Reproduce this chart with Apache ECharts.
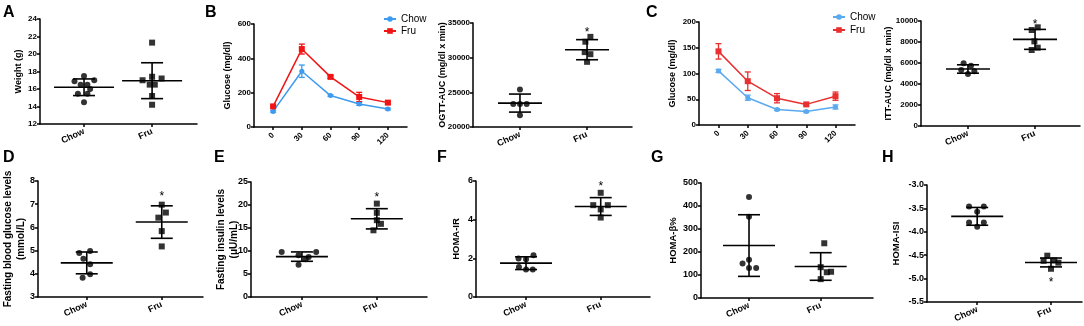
<!DOCTYPE html>
<html>
<head>
<meta charset="utf-8">
<script src="https://cdn.jsdelivr.net/npm/echarts@6/dist/echarts.min.js"></script>
<style>
  html, body { margin: 0; padding: 0; background: #fff; }
  #chart { width: 1084px; height: 326px; }
</style>
</head>
<body>
<div id="chart"></div>
<script>
const groups = ['Chow', 'Fru'];
const timePoints = [0, 30, 60, 90, 120];

// A - body weight
const weightChow = [17.5, 17.0, 16.9, 16.5, 16.5, 16.0, 15.45, 15.45, 14.5];
const weightChowJitter = [0, 0.15, -0.14, -0.05, 0.05, 0.09, -0.09, 0.05, 0];
const weightFru = [21.3, 17.4, 17.2, 17.0, 16.5, 16.5, 15.2, 14.2];
const weightFruJitter = [0, 0, 0.14, -0.14, -0.035, 0.04, 0, 0];
const weightMean = [16.2, 16.95];
const weightSD = [0.95, 2.05];

// B - OGTT curve (mean, sem)
const ogttChow = [91, 325, 183, 134, 105];
const ogttChowErr = [5, 36, 5, 8, 5];
const ogttFru = [120, 454, 292, 175, 142];
const ogttFruErr = [6, 29, 7, 27, 8];

// B - OGTT AUC
const ogttAucChow = [25400, 23300, 23300, 23300, 21700];
const ogttAucChowJitter = [0, -0.1, 0, 0.1, 0];
const ogttAucFru = [33000, 32300, 30800, 30500, 29400];
const ogttAucFruJitter = [0.05, -0.025, -0.035, 0.05, 0];
const ogttAucMean = [23450, 31150];
const ogttAucSD = [1300, 1450];
const ogttAucStar = 33850;

// C - ITT curve (mean, sem)
const ittChow = [105, 53, 30, 26, 35];
const ittChowErr = [3, 5, 2, 2, 4];
const ittFru = [143, 85, 52, 40, 56];
const ittFruErr = [15, 18, 9, 2, 8];

// C - ITT AUC
const ittAucChow = [5970, 5750, 5330, 5210, 4950];
const ittAucChowJitter = [-0.065, 0.045, -0.1, 0.095, 0];
const ittAucFru = [9140, 9400, 8060, 7460, 7240];
const ittAucFruJitter = [-0.05, 0.04, -0.01, 0.04, -0.05];
const ittAucMean = [5430, 8250];
const ittAucSD = [400, 950];
const ittAucStar = 9840;

// D - fasting blood glucose
const fbgChow = [4.98, 4.9, 4.65, 4.41, 3.98, 3.83];
const fbgChowJitter = [0.045, -0.1, -0.045, 0.045, 0.045, -0.055];
const fbgFru = [6.98, 6.64, 6.42, 5.84, 5.18];
const fbgFruJitter = [0, 0.055, -0.045, 0, 0];
const fbgMean = [4.47, 6.23];
const fbgSD = [0.47, 0.7];
const fbgStar = 7.4;

// E - fasting insulin
const insChow = [9.8, 9.8, 9.06, 8.7, 8.2, 7.0];
const insChowJitter = [-0.27, 0.19, -0.045, 0.09, 0.05, -0.045];
const insFru = [20.3, 18.3, 16.7, 15.9, 14.5];
const insFruJitter = [0, 0, 0, 0.055, -0.045];
const insMean = [8.78, 17.0];
const insSD = [1.02, 2.2];
const insStar = 22.1;

// F - HOMA-IR
const irChow = [2.16, 1.99, 1.95, 1.55, 1.42, 1.42];
const irChowJitter = [0.1, -0.1, 0, -0.095, 0, 0.09];
const irFru = [5.39, 4.75, 4.75, 4.53, 4.11];
const irFruJitter = [0, -0.1, 0.095, 0, 0];
const irMean = [1.75, 4.68];
const irSD = [0.33, 0.46];
const irStar = 5.8;

// G - HOMA-beta
const betaChow = [439, 353, 166, 150, 130, 130];
const betaChowJitter = [0, 0, 0, -0.09, 0, 0.1];
const betaFru = [238, 134, 112, 114, 82];
const betaFruJitter = [0.05, 0, 0.085, 0.145, 0];
const betaMean = [228, 137];
const betaSD = [134, 60];

// H - HOMA-ISI
const isiChow = [-3.46, -3.46, -3.57, -3.8, -3.8, -3.89];
const isiChowJitter = [-0.11, 0.09, 0, -0.11, 0.09, 0];
const isiFru = [-4.51, -4.62, -4.61, -4.66, -4.79];
const isiFruJitter = [-0.05, -0.1, 0.045, 0.1, 0];
const isiMean = [-3.67, -4.655];
const isiSD = [0.19, 0.095];
const isiStar = -5.04;

const FONT = '"Liberation Sans", Arial, sans-serif';
const grids = [], xAxes = [], yAxes = [], series = [];

function axisBase() {
  return {
    axisLine: { show: true, onZero: false, lineStyle: { color: '#000', width: 1.5 } },
    axisTick: { show: true, inside: false, length: 3, lineStyle: { color: '#000', width: 1.5 } },
    splitLine: { show: false }
  };
}

function addGrid(box) {
  grids.push({ left: box[0], top: box[1], width: box[2], height: box[3], outerBoundsMode: 'none', containLabel: false });
  return grids.length - 1;
}

function addYAxis(i, cfg, fs) {
  const a = axisBase();
  yAxes.push(Object.assign(a, {
    gridIndex: i, type: 'value', min: cfg.min, max: cfg.max, interval: cfg.interval,
    name: cfg.name, nameLocation: 'middle', nameGap: cfg.gap, nameMoveOverlap: false,
    nameTextStyle: { color: '#000', fontSize: cfg.nameSize || 9, fontWeight: 'bold', fontFamily: FONT, lineHeight: 13 },
    axisLabel: { color: '#000', fontSize: fs, fontWeight: 'bold', fontFamily: FONT, margin: 3,
      formatter: cfg.fmt || (v => String(v)) }
  }));
}

function scatterPanel(box, xr, yCfg, fs, chow, chowJ, fru, fruJ, mean, sd, star, meanHalf) {
  const i = addGrid(box);
  const xa = axisBase();
  xAxes.push(Object.assign(xa, {
    gridIndex: i, type: 'value', min: xr[0], max: xr[1],
    axisTick: Object.assign(xa.axisTick, { customValues: [0, 1] }),
    axisLabel: { customValues: [0, 1], formatter: v => groups[Math.round(v)], rotate: 25,
      color: '#000', fontSize: 9, fontWeight: 'bold', fontFamily: FONT, margin: 7 }
  }));
  addYAxis(i, yCfg, fs);
  series.push({
    type: 'scatter', xAxisIndex: i, yAxisIndex: i, silent: true, symbol: 'circle', symbolSize: 6,
    itemStyle: { color: '#000' }, data: chow.map((v, k) => [0 + chowJ[k], v])
  });
  series.push({
    type: 'scatter', xAxisIndex: i, yAxisIndex: i, silent: true, symbol: 'rect', symbolSize: 6,
    itemStyle: { color: '#000' }, data: fru.map((v, k) => [1 + fruJ[k], v])
  });
  const mw = meanHalf || 24, cw = 11;
  series.push({
    type: 'custom', xAxisIndex: i, yAxisIndex: i, silent: true,
    data: mean.map((m, g) => [g, m, sd[g]]),
    renderItem: (p, api) => {
      const x = api.value(0), m = api.value(1), s = api.value(2);
      const c = api.coord([x, m]), hi = api.coord([x, m + s]), lo = api.coord([x, m - s]);
      const st = { stroke: '#000', lineWidth: 1.6 };
      return { type: 'group', children: [
        { type: 'line', shape: { x1: c[0] - mw, y1: c[1], x2: c[0] + mw, y2: c[1] }, style: st },
        { type: 'line', shape: { x1: c[0], y1: hi[1], x2: c[0], y2: lo[1] }, style: st },
        { type: 'line', shape: { x1: c[0] - cw, y1: hi[1], x2: c[0] + cw, y2: hi[1] }, style: st },
        { type: 'line', shape: { x1: c[0] - cw, y1: lo[1], x2: c[0] + cw, y2: lo[1] }, style: st }
      ]};
    }
  });
  if (star != null) {
    series.push({
      type: 'custom', xAxisIndex: i, yAxisIndex: i, silent: true, data: [[1, star]],
      renderItem: (p, api) => {
        const c = api.coord([api.value(0), api.value(1)]);
        return { type: 'text', x: c[0], y: c[1] + 2, style: { text: '*', fill: '#000', fontSize: 12,
          fontFamily: FONT, align: 'center', verticalAlign: 'middle' } };
      }
    });
  }
}

function linePanel(box, yCfg, chow, chowE, fru, fruE, colors) {
  const i = addGrid(box);
  const xa = axisBase();
  xAxes.push(Object.assign(xa, {
    gridIndex: i, type: 'value', min: -20, max: 140,
    axisTick: Object.assign(xa.axisTick, { customValues: timePoints }),
    axisLabel: { customValues: timePoints, rotate: 45, color: '#000', fontSize: 8, fontWeight: 'bold',
      fontFamily: FONT, margin: 7 }
  }));
  addYAxis(i, yCfg, 8);
  const sets = [[groups[0], chow, chowE, colors[0], 'circle', 5], [groups[1], fru, fruE, colors[1], 'rect', 6]];
  sets.forEach(([name, vals, errs, col, sym, size]) => {
    series.push({
      name, type: 'line', xAxisIndex: i, yAxisIndex: i, silent: true, symbol: sym, symbolSize: size,
      lineStyle: { color: col, width: 1.5 }, itemStyle: { color: col },
      data: vals.map((v, k) => [timePoints[k], v])
    });
    series.push({
      type: 'custom', xAxisIndex: i, yAxisIndex: i, silent: true,
      data: vals.map((v, k) => [timePoints[k], v, errs[k]]),
      renderItem: (p, api) => {
        const x = api.value(0), m = api.value(1), s = api.value(2);
        const hi = api.coord([x, m + s]), lo = api.coord([x, m - s]);
        const st = { stroke: col, lineWidth: 1.3 };
        return { type: 'group', children: [
          { type: 'line', shape: { x1: hi[0], y1: hi[1], x2: lo[0], y2: lo[1] }, style: st },
          { type: 'line', shape: { x1: hi[0] - 3, y1: hi[1], x2: hi[0] + 3, y2: hi[1] }, style: st },
          { type: 'line', shape: { x1: lo[0] - 3, y1: lo[1], x2: lo[0] + 3, y2: lo[1] }, style: st }
        ]};
      }
    });
  });
}

scatterPanel([40, 19, 157, 105], [-0.647, 1.66],
  { min: 12, max: 24, interval: 2, name: 'Weight (g)', gap: 15 }, 8,
  weightChow, weightChowJitter, weightFru, weightFruJitter, weightMean, weightSD, null, 30);

linePanel([254, 24, 153, 103], { min: 0, max: 600, interval: 200, name: 'Glucose (mg/dl)', gap: 20 },
  ogttChow, ogttChowErr, ogttFru, ogttFruErr, ['#3d9bf0', '#f01414']);

scatterPanel([473, 23, 159, 104], [-0.7, 1.67],
  { min: 20000, max: 35000, interval: 5000, name: 'OGTT-AUC (mg/dl x min)', gap: 24 }, 8,
  ogttAucChow, ogttAucChowJitter, ogttAucFru, ogttAucFruJitter, ogttAucMean, ogttAucSD, ogttAucStar, 22);

linePanel([699, 22, 156, 103], { min: 0, max: 200, interval: 50, name: 'Glucose (mg/dl)', gap: 20 },
  ittChow, ittChowErr, ittFru, ittFruErr, ['#5aaaf0', '#e83030']);

scatterPanel([921, 21, 159, 105], [-0.7, 1.67],
  { min: 0, max: 10000, interval: 2000, name: 'ITT-AUC (mg/dl x min)', gap: 26 }, 8,
  ittAucChow, ittAucChowJitter, ittAucFru, ittAucFruJitter, ittAucMean, ittAucSD, ittAucStar, 22);

scatterPanel([38, 181, 165, 116], [-0.65, 1.55],
  { min: 3, max: 8, interval: 1, name: 'Fasting blood glucose levels\n(mmol/L)', gap: 10, nameSize: 10 }, 9,
  fbgChow, fbgChowJitter, fbgFru, fbgFruJitter, fbgMean, fbgSD, fbgStar, 26);

scatterPanel([251, 182, 176, 115], [-0.68, 1.67],
  { min: 0, max: 25, interval: 5, name: 'Fasting insulin levels\n(μU/mL)', gap: 10, nameSize: 10 }, 9,
  insChow, insChowJitter, insFru, insFruJitter, insMean, insSD, insStar, 26);

scatterPanel([476, 181, 174, 116], [-0.67, 1.66],
  { min: 0, max: 6, interval: 2, name: 'HOMA-IR', gap: 13, nameSize: 9.5 }, 9,
  irChow, irChowJitter, irFru, irFruJitter, irMean, irSD, irStar, 26);

scatterPanel([701, 183, 172, 115], [-0.67, 1.73],
  { min: 0, max: 500, interval: 100, name: 'HOMA-β%', gap: 21, nameSize: 9.5 }, 9,
  betaChow, betaChowJitter, betaFru, betaFruJitter, betaMean, betaSD, null, 26);

scatterPanel([927, 185, 155, 117], [-0.68, 1.42],
  { min: -5.5, max: -3.0, interval: 0.5, name: 'HOMA-ISI', gap: 24, nameSize: 9.5, fmt: v => v.toFixed(1) }, 9,
  isiChow, isiChowJitter, isiFru, isiFruJitter, isiMean, isiSD, isiStar, 26);

const legendText = { color: '#000', fontSize: 10, fontFamily: FONT };
const letters = [['A', 3, 5], ['B', 205, 5], ['C', 646, 5], ['D', 3, 150], ['E', 214, 150],
  ['F', 437, 150], ['G', 651, 150], ['H', 882, 150]];

const chart = echarts.init(document.getElementById('chart'));
chart.setOption({
  animation: false,
  grid: grids,
  xAxis: xAxes,
  yAxis: yAxes,
  legend: [
    { left: 383, top: 14, padding: 0, orient: 'vertical', itemGap: 2, itemWidth: 12, itemHeight: 7,
      textStyle: legendText, data: groups },
    { left: 832, top: 12, padding: 0, orient: 'vertical', itemGap: 3, itemWidth: 12, itemHeight: 7, textStyle: legendText,
      data: [
        { name: 'Chow', itemStyle: { color: '#5aaaf0' }, lineStyle: { color: '#5aaaf0' } },
        { name: 'Fru', itemStyle: { color: '#e83030' }, lineStyle: { color: '#e83030' } }
      ] }
  ],
  graphic: letters.map(([t, x, y]) => ({
    type: 'text', left: x, top: y,
    style: { text: t, fill: '#000', fontSize: 16, fontWeight: 'bold', fontFamily: FONT }
  })),
  series: series
});
</script>
</body>
</html>
